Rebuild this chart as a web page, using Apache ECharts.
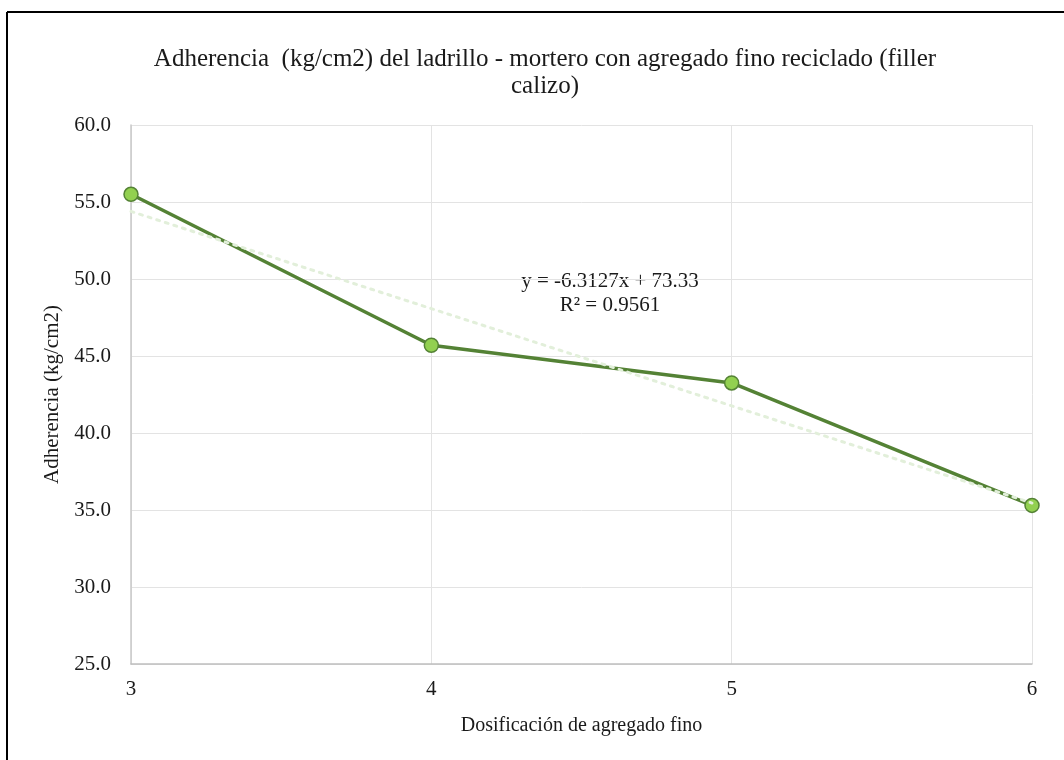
<!DOCTYPE html>
<html>
<head>
<meta charset="utf-8">
<script src="https://cdn.jsdelivr.net/npm/echarts@6/dist/echarts.min.js"></script>
<style>
html,body{margin:0;padding:0;background:#fff;}
#c{width:1064px;height:760px;}
</style>
</head>
<body>
<div id="c"></div>
<script>
var titleText = 'Adherencia  (kg/cm2) del ladrillo - mortero con agregado fino reciclado (filler\ncalizo)';
var xName = 'Dosificación de agregado fino';
var yName = 'Adherencia (kg/cm2)';
var dosage = [3, 4, 5, 6];
var adherence = [55.5, 45.7, 43.25, 35.3];
var trendX = [3, 6];
var trendY = [54.39, 35.45];
var equationText = 'y = -6.3127x + 73.33\nR² = 0.9561';

var font = 'Liberation Serif';
var chart = echarts.init(document.getElementById('c'));
chart.setOption({
  backgroundColor: '#fff',
  animation: false,
  title: {
    text: titleText,
    left: 540, top: 41, textAlign: 'center',
    textStyle: {fontFamily: font, fontSize: 25, fontWeight: 'normal', color: '#1a1a1a', lineHeight: 27, align: 'center'}
  },
  grid: {left: 131, right: 32, top: 125, bottom: 96},
  xAxis: {
    type: 'value', min: 3, max: 6, interval: 1,
    name: xName, nameLocation: 'middle', nameGap: 52,
    nameTextStyle: {fontFamily: font, fontSize: 20, color: '#1a1a1a'},
    axisLine: {show: true, lineStyle: {color: '#bfbfbf', width: 1.5}},
    axisTick: {show: false},
    axisLabel: {fontFamily: font, fontSize: 21, color: '#1a1a1a', margin: 15},
    splitLine: {show: true, lineStyle: {color: '#e3e3e3', width: 1}}
  },
  yAxis: {
    type: 'value', min: 25, max: 60, interval: 5,
    name: yName, nameLocation: 'middle', nameGap: 63,
    nameTextStyle: {fontFamily: font, fontSize: 21, color: '#1a1a1a'},
    axisLine: {show: true, lineStyle: {color: '#c8c8c8', width: 1.5}},
    axisTick: {show: false},
    axisLabel: {fontFamily: font, fontSize: 21, color: '#1a1a1a', margin: 20,
      formatter: function(v){return v.toFixed(1);}},
    splitLine: {show: true, lineStyle: {color: '#e3e3e3', width: 1}}
  },
  series: [
    {
      type: 'line',
      data: dosage.map(function(x, i){return [x, adherence[i]];}),
      lineStyle: {color: '#548235', width: 3.5},
      symbol: 'circle', symbolSize: 14,
      itemStyle: {color: '#92D050', borderColor: '#548235', borderWidth: 1.5},
      z: 2
    },
    {
      type: 'line',
      data: trendX.map(function(x, i){return [x, trendY[i]];}),
      lineStyle: {color: '#E2EFDA', width: 3, type: [3, 6], cap: 'round'},
      symbol: 'none',
      z: 3
    }
  ],
  graphic: [
    {type: 'text', x: 610, y: 269, style: {text: equationText, x: 0, y: 0, align: 'center', verticalAlign: 'top',
      fontFamily: font, fontSize: 21, fill: '#1a1a1a', lineHeight: 24}},
    {type: 'line', shape: {x1: 7, y1: 12, x2: 1064, y2: 12}, style: {stroke: '#000', lineWidth: 2}},
    {type: 'line', shape: {x1: 7, y1: 12, x2: 7, y2: 760}, style: {stroke: '#000', lineWidth: 2}}
  ]
});
</script>
</body>
</html>
